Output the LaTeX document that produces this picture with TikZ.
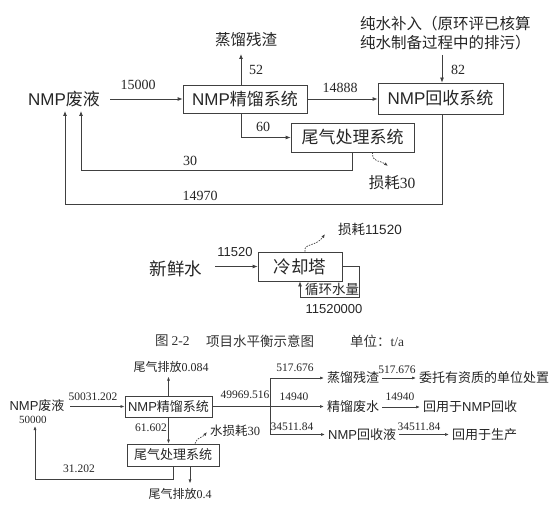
\documentclass[tikz,border=0pt]{standalone}
\usepackage{fontspec}
\setmainfont{Liberation Serif}
\newfontfamily\cj{Noto Sans CJK SC}
\newfontfamily\ar{Liberation Sans}
\usetikzlibrary{arrows.meta,calc}
\begin{document}
\begin{tikzpicture}[x=1pt,y=-1pt,
  line/.style={draw=black!75, line width=0.8pt},
  arr/.style={line, -{Latex[length=5pt,width=4pt]}},
  sarr/.style={draw=black!75, line width=0.7pt, -{Latex[length=4pt,width=3pt]}},
  dsh/.style={draw=black!75, line width=0.7pt, dash pattern=on 1.5pt off 1.2pt, -{Latex[length=4pt,width=3pt]}},
  box/.style={draw=black!75, line width=0.8pt, inner sep=0, text=black!85},
  cjA/.style={inner sep=0, text=black!85, font=\fontsize{17}{20}\selectfont\cj},
  cjB/.style={inner sep=0, text=black!85, font=\fontsize{15.5}{19}\selectfont\cj},
  cjM/.style={inner sep=0, text=black!85, font=\fontsize{17.5}{20}\selectfont\cj},
  cjS/.style={inner sep=0, text=black!85, font=\fontsize{13}{15}\selectfont\cj},
  cjC/.style={inner sep=0, text=black!80, font=\fontsize{13.5}{15}\selectfont\cj},
  numA/.style={inner sep=0, text=black!85, font=\fontsize{14}{16}\selectfont\rmfamily},
  numM/.style={inner sep=0, text=black!85, font=\fontsize{13}{15}\selectfont\ar},
  numS/.style={inner sep=0, text=black!85, font=\fontsize{11.5}{13}\selectfont\rmfamily},
  tgt/.style={cjS, inner xsep=3pt}
]
\fill[white] (0,0) rectangle (555,511);
\useasboundingbox (0,0) rectangle (555,511);

% ---------------- top section ----------------
\node[cjA] (feed) at (64,99) {{\ar NMP}废液};
\node[box, cjA, minimum width=124, minimum height=28] (dist) at (245,99) {{\ar NMP}精馏系统};
\node[box, cjA, minimum width=123, minimum height=29] (tail) at (352.5,137.5) {尾气处理系统};
\node[box, cjA, minimum width=125, minimum height=31] (rec) at (440.5,98.5) {{\ar NMP}回收系统};
\node[cjB] (residue) at (246,40) {蒸馏残渣};
\node[cjB, anchor=west, align=left, font=\fontsize{15.5}{19.5}\selectfont\cj] (pure) at (360,33) {纯水补入（原环评已核算\\纯水制备过程中的排污）};
\node[cjB] (loss1) at (392,183) {损耗{\rmfamily 30}};

\coordinate (a52) at (241,54);
\coordinate (a82) at (442,55);
\coordinate (ret30) at (81,111);
\coordinate (ret14970) at (65,111);

\draw[arr, shorten <=10pt] (feed.east) -- (dist.west);
\draw[arr] (dist.north -| a52) -- (a52);
\draw[arr] (dist.south -| a52) |- (tail.west);
\draw[arr] (dist.east) -- (dist.east -| rec.west);
\draw[arr] (a82) -- (a82 |- rec.north);
\draw[arr] (tail.south) -- ++(0,18) -| (ret30);
\draw[arr] (rec.south -| a82) -- ++(0,90) -| (ret14970);
\draw[dsh] ($(tail.south)+(20,0)$) .. controls (372,163) and (380,160) .. (388,166);

\node[numA] at (138,85) {15000};
\node[numA] at (256,70) {52};
\node[numA] at (263,127) {60};
\node[numA] at (340,88) {14888};
\node[numA] at (458,70) {82};
\node[numA] at (190,161) {30};
\node[numA] at (200,196) {14970};

% ---------------- middle section ----------------
\node[cjM] (fresh) at (176,269) {新鲜水};
\node[box, cjM, minimum width=84, minimum height=29] (cool) at (300,266.5) {冷却塔};
\node[cjS, font=\fontsize{13.5}{15}\selectfont\cj] (loss2) at (370,229) {损耗{\ar 11520}};
\node[cjS, font=\fontsize{13.5}{15}\selectfont\cj] (circ) at (332,289) {循环水量};
\coordinate (fw) at (215,266.5);
\draw[arr] (fw) -- (cool.west);
\draw[dsh] ($(cool.north)+(5,0)$) .. controls (303,243) and (316,247) .. (325,234);
\draw[arr] (cool.east) -- ++(17,0) -- ++(0,31) -| (cool.south);
\node[numM] at (235,252) {11520};
\node[numM] at (334,309) {11520000};

% caption
\node[cjC, anchor=west] (cap1) at (155,341) {图 {\rmfamily 2-2}};
\node[cjC, anchor=west] (cap2) at (206,341) {项目水平衡示意图};
\node[cjC, anchor=west] (cap3) at (350,341) {单位：{\rmfamily t/a}};

% ---------------- bottom section ----------------
\node[cjS] (bfeed) at (37,406) {{\ar NMP}废液};
\node[numS, font=\fontsize{11}{12}\selectfont\rmfamily] (bfeedq) at (33,420) {50000};
\node[box, cjS, minimum width=87, minimum height=21] (bdist) at (168.5,406.5) {{\ar NMP}精馏系统};
\node[box, cjS, minimum width=92, minimum height=22] (btail) at (173,455) {尾气处理系统};
\node[cjS, font=\fontsize{12}{14}\selectfont\cj] (ex1) at (171,367) {尾气排放{\rmfamily 0.084}};
\node[cjS, font=\fontsize{12}{14}\selectfont\cj] (ex2) at (180,494) {尾气排放{\rmfamily 0.4}};
\node[cjS, anchor=west, font=\fontsize{12.5}{14}\selectfont\cj] (wl) at (210,431) {水损耗{\rmfamily 30}};

\node[tgt, anchor=west] (t1) at (324,378) {蒸馏残渣};
\node[tgt, anchor=west] (t2) at (324,407) {精馏废水};
\node[tgt, anchor=west] (t3) at (325,434.5) {{\ar NMP}回收液};
\node[tgt, anchor=west] (u1) at (416,378) {委托有资质的单位处置};
\node[tgt, anchor=west] (u2) at (420,407) {回用于{\ar NMP}回收};
\node[tgt, anchor=west] (u3) at (449,434.5) {回用于生产};

\coordinate (bf) at (70,406.5);
\coordinate (bret) at (35,426);
\coordinate (br) at (270,406.5);
\coordinate (br1) at (270,378);
\coordinate (br3) at (270,434.5);

\draw[sarr] (bf) -- (bdist.west);
\draw[sarr] (bdist.north) -- ++(0,-19);
\draw[sarr] (bdist.south) -- (bdist.south |- btail.north);
\draw[sarr] (btail.south) -- ++(0,13) -| (bret);
\draw[sarr] ($(btail.south)+(17,0)$) -- ++(0,17);
\draw[dsh] ($(btail.north)+(22,0)$) .. controls (197,437) and (202,438) .. (207,432);
\draw[line, line width=0.7pt] (bdist.east) -- (br);
\draw[line, line width=0.7pt] (br1) -- (br3);
\draw[sarr] (br1) -- (t1.west);
\draw[sarr] (br) -- (br -| t2.west);
\draw[sarr] (br3) -- (t3.west);
\draw[sarr] (t1.east) -- (u1.west);
\draw[sarr] (t2.east) -- (u2.west);
\draw[sarr] (t3.east) -- (u3.west);

\node[numS] at (93,397) {50031.202};
\node[numS] at (151,428) {61.602};
\node[numS] at (79,469) {31.202};
\node[numS] at (245,395) {49969.516};
\node[numS] at (295,368) {517.676};
\node[numS] at (294,397) {14940};
\node[numS] at (292,427) {34511.84};
\node[numS] at (397,370) {517.676};
\node[numS] at (400,397) {14940};
\node[numS] at (419,427) {34511.84};
\end{tikzpicture}
\end{document}
